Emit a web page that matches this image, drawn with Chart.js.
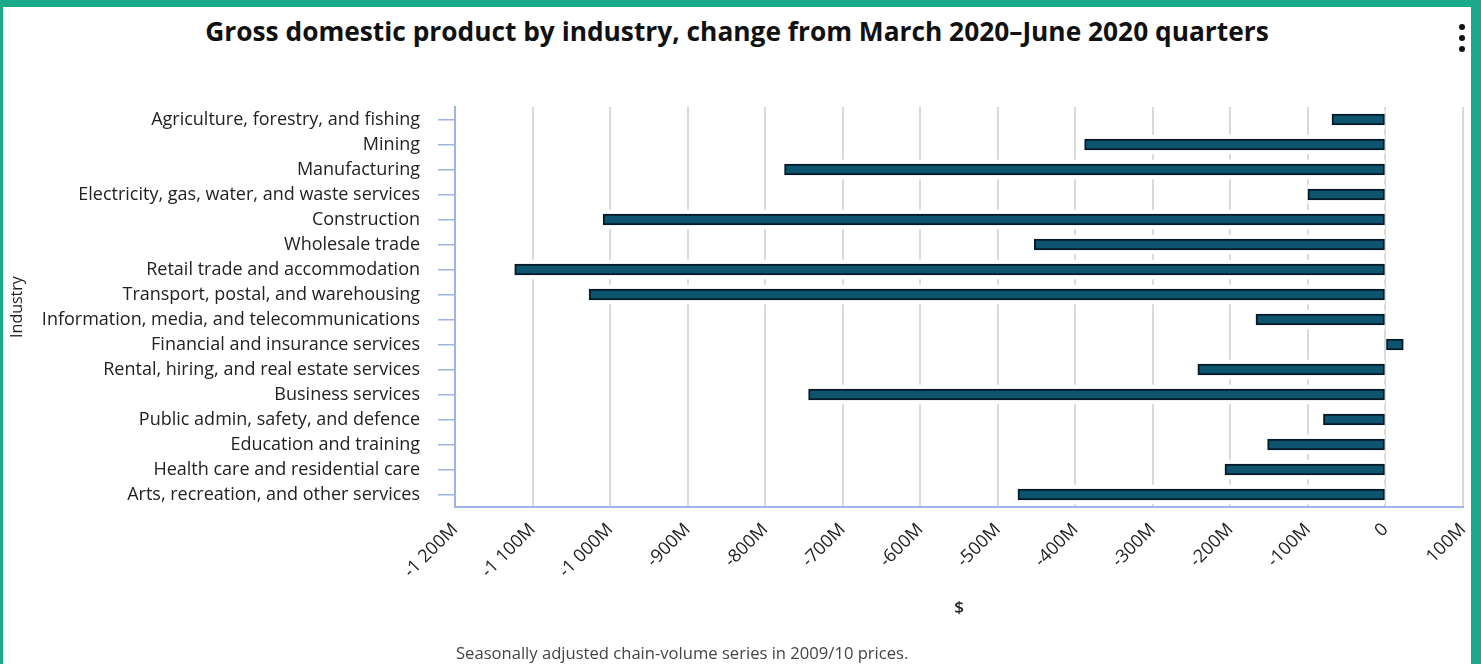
<!DOCTYPE html>
<html>
<head>
<meta charset="utf-8">
<script src="https://cdn.jsdelivr.net/npm/chart.js@4.4.0/dist/chart.umd.min.js"></script>
<style>
  html, body { margin: 0; padding: 0; }
  body { width: 1481px; height: 664px; background: #1aaa8a; position: relative; overflow: hidden; }
  #panel { position: absolute; left: 3px; top: 7px; width: 1468px; height: 657px; background: #fff; }
  #title { position: absolute; left: 0; top: 6px; width: 100%; text-align: center;
           font: 700 26.3px 'Open Sans', sans-serif; color: #111; white-space: nowrap; }
  #menu { position: absolute; left: 1456px; top: 17px; width: 6px; }
  #menu span { display: block; width: 6px; height: 6px; border-radius: 50%; background: #111; margin-bottom: 5px; }
  #note { position: absolute; left: 453px; top: 634px; font: 16.6px 'Open Sans', sans-serif; color: #444; white-space: nowrap; }
  canvas { position: absolute; left: 0; top: 0; }
</style>
</head>
<body>
<div id="panel">
  <div id="title">Gross domestic product by industry, change from March 2020–June 2020 quarters</div>
  <div id="menu"><span></span><span></span><span></span></div>
  <canvas id="gdpChart" width="1468" height="657"></canvas>
  <div id="note">Seasonally adjusted chain-volume series in 2009/10 prices.</div>
</div>
<script>
// industries, top to bottom
var industries = [
    'Agriculture, forestry, and fishing',
    'Mining',
    'Manufacturing',
    'Electricity, gas, water, and waste services',
    'Construction',
    'Wholesale trade',
    'Retail trade and accommodation',
    'Transport, postal, and warehousing',
    'Information, media, and telecommunications',
    'Financial and insurance services',
    'Rental, hiring, and real estate services',
    'Business services',
    'Public admin, safety, and defence',
    'Education and training',
    'Health care and residential care',
    'Arts, recreation, and other services'
];

// change in $ millions
var changes = [-69, -388, -775, -100, -1009, -453, -1123, -1027, -167, 23, -242, -744, -80, -152, -207, -474];

var axisMin = -1200;
var axisMax = 100;
var axisStep = 100;

function fmtMillions(v) {
    if (v === 0) return '0';
    var s = Math.abs(v).toString();
    if (s.length > 3) s = s.slice(0, s.length - 3) + ' ' + s.slice(s.length - 3);
    return (v < 0 ? '-' : '') + s + 'M';
}

var fam = "'Open Sans', sans-serif";

new Chart(document.getElementById('gdpChart'), {
    type: 'bar',
    data: {
        labels: industries,
        datasets: [
            {
                label: 'Change',
                data: changes,
                backgroundColor: '#0d546f',
                borderColor: '#071a27',
                borderWidth: 2,
                borderSkipped: false,
                barThickness: 11,
                grouped: false
            },
            {
                // white halo behind each bar (breaks the gridlines like the original)
                label: 'halo',
                data: changes,
                backgroundColor: '#ffffff',
                borderWidth: 0,
                barThickness: 19,
                grouped: false
            }
        ]
    },
    options: {
        indexAxis: 'y',
        responsive: false,
        animation: false,
        layout: { padding: { left: 5, right: 8, top: 100, bottom: 46 } },
        plugins: {
            legend: { display: false },
            tooltip: { enabled: false }
        },
        scales: {
            x: {
                type: 'linear',
                min: axisMin,
                max: axisMax,
                ticks: {
                    stepSize: axisStep,
                    autoSkip: false,
                    minRotation: 45,
                    maxRotation: 45,
                    padding: 12,
                    color: '#222',
                    font: { family: fam, size: 18 },
                    callback: function(v) { return fmtMillions(v); }
                },
                grid: { color: '#dadada', lineWidth: 2, drawTicks: false },
                border: { display: true, color: '#9fb3e6', width: 2 },
                title: { display: true, text: '$', color: '#222', font: { family: fam, size: 17, weight: '600' }, padding: 0 },
                afterFit: function(scale) { scale.height = 111; scale.paddingRight = 0; }
            },
            y: {
                ticks: { color: '#222', font: { family: fam, size: 18 }, padding: 18, autoSkip: false },
                grid: { drawOnChartArea: false, offset: false, color: '#9fb3e6', tickLength: 17, lineWidth: 1.5 },
                border: { display: true, color: '#9fb3e6', width: 2 },
                title: { display: true, text: 'Industry', color: '#222', font: { family: fam, size: 16 }, padding: 0 },
                afterFit: function(scale) { scale.width = 447; }
            }
        }
    }
});
</script>
</body>
</html>
